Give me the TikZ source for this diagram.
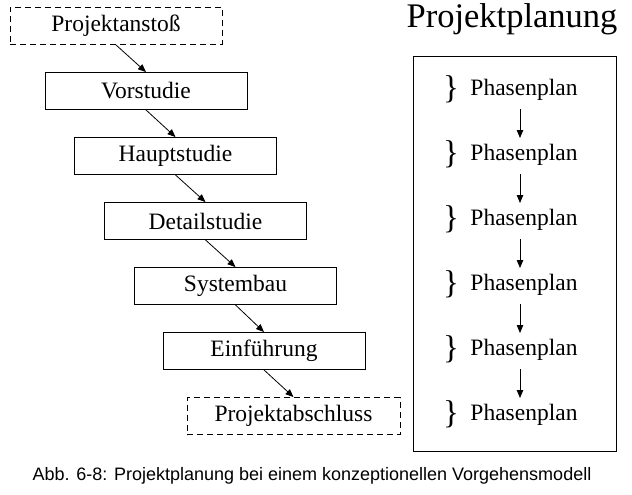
\documentclass[tikz,border=0pt]{standalone}
\usepackage{fontspec}
\setmainfont{Liberation Serif}
\newfontfamily\capfont{Liberation Sans}
\usetikzlibrary{arrows.meta}
\begin{document}
\begin{tikzpicture}[x=1pt,y=-1pt,
  stage/.style={draw,line width=0.9pt,minimum width=202pt,minimum height=37pt,
    inner sep=0pt,font=\fontsize{23.5}{28}\selectfont},
  endpoint/.style={stage,dash pattern=on 6pt off 4pt},
  flow/.style={line width=0.8pt,-{Triangle[length=8pt,width=6.5pt]}},
  plan/.style={inner sep=0pt,font=\fontsize{23.5}{28}\selectfont},
  brace/.style={inner sep=0pt,font=\fontsize{33}{36}\selectfont}
]
\useasboundingbox (0,0) rectangle (632,495);

% process phases (left column)
\node[endpoint,minimum width=212pt] (s0) at (116,26)   {Projektanstoß};
\node[stage]    (s1) at (146,91)   {Vorstudie};
\node[stage]    (s2) at (175.5,156) {Hauptstudie};
\node[stage]    (s3) at (205.5,221) {Detailstudie};
\node[stage]    (s4) at (235.5,286) {Systembau};
\node[stage]    (s5) at (264,351)  {Einführung};
\node[endpoint,minimum width=213pt] (s6) at (293.5,416) {Projektabschluss};

\foreach \a/\b in {s0/s1,s1/s2,s2/s3,s3/s4,s4/s5,s5/s6}
  \draw[flow] (\a.south) -- (\b.north);

% project planning (right column)
\node[font=\fontsize{34.5}{40}\selectfont,inner sep=0pt] (title) at (512,19) {Projektplanung};
\node[draw,line width=0.9pt,minimum width=203pt,minimum height=395pt,inner sep=0pt]
  (frame) at (514.5,253.5) {};

\foreach \i/\y in {1/90,2/155,3/220,4/285,5/350,6/415}{
  \node[brace] (b\i) at (451,\y-1) {\}};
  \node[plan]  (p\i) at (524,\y) {Phasenplan};
}
\foreach \a/\b in {p1/p2,p2/p3,p3/p4,p4/p5,p5/p6}
  \draw[flow] ([shift={(-4,19)}]\a.center) -- ([shift={(-4,-17)}]\b.center);

% caption
\node[font=\capfont\fontsize{18}{22}\selectfont,inner sep=0pt] (cap) at (312,476)
  {Abb. 6-8: Projektplanung bei einem konzeptionellen Vorgehensmodell};
\end{tikzpicture}
\end{document}
